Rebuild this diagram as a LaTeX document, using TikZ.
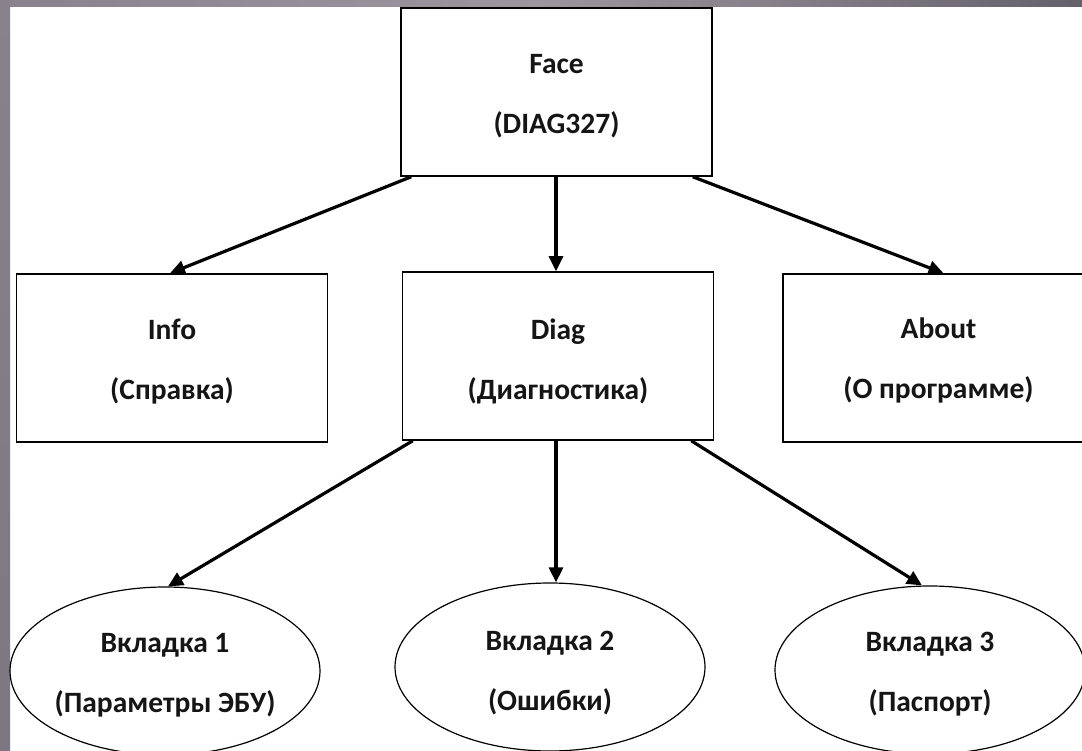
\documentclass[tikz,border=0pt]{standalone}
\usepackage{fontspec}
\setmainfont{Carlito}
\usetikzlibrary{arrows.meta,shapes.geometric}
\definecolor{bordA}{HTML}{87828C}
\definecolor{bordB}{HTML}{9C979F}
\definecolor{bordC}{HTML}{65616A}
\definecolor{bordD}{HTML}{7C7781}
\definecolor{ink}{HTML}{151515}
\begin{document}
\begin{tikzpicture}[x=1pt,y=-1pt,
  lbl/.style={font=\bfseries\fontsize{29.5}{60}\selectfont, text=ink, align=center, inner sep=0pt},
  boxnode/.style={draw=black, line width=1.5pt, rectangle, inner sep=0pt, minimum width=311pt, minimum height=168pt},
  ellnode/.style={draw=black, line width=1.2pt, ellipse, inner sep=0pt, minimum width=310pt, minimum height=168pt},
  arr/.style={line width=3.2pt, black, -{Triangle[length=15pt,width=14pt]}}
]
\clip (0,0) rectangle (1082,751);
\fill[white] (0,0) rectangle (1082,751);
\shade[left color=bordA, right color=bordC, middle color=bordB] (0,0) rectangle (1082,7);
\shade[top color=bordA, bottom color=bordD] (0,0) rectangle (10,751);

\node[boxnode, label={[lbl,yshift=-4.5pt]center:{Face\\(DIAG327)}}] (face) at (556.5,92) {};
\node[boxnode, label={[lbl,yshift=-3.5pt]center:{Info\\(Справка)}}] (info) at (172,358) {};
\node[boxnode, label={[lbl,yshift=-5.5pt]center:{Diag\\(Диагностика)}}] (diag) at (558,356) {};
\node[boxnode, label={[lbl,yshift=-2.5pt]center:{About\\(О программе)}}] (about) at (938.5,358) {};

\node[ellnode, label={[lbl,yshift=-4pt]center:{Вкладка 1\\(Параметры ЭБУ)}}] (t1) at (165,671) {};
\node[ellnode, label={[lbl,yshift=-6.5pt]center:{Вкладка 2\\(Ошибки)}}] (t2) at (550,667) {};
\node[ellnode, label={[lbl,yshift=-4.5pt]center:{Вкладка 3\\(Паспорт)}}] (t3) at (930,670) {};

\draw[arr] ([xshift=11pt]face.south west) -- ([xshift=-2pt]info.north);
\draw[arr] ([xshift=-0.5pt]face.south) -- ([xshift=-2pt]diag.north);
\draw[arr] ([xshift=-20pt]face.south east) -- ([xshift=5pt]about.north);

\draw[arr] ([xshift=11pt]diag.south west) -- ([xshift=3pt]t1.north);
\draw[arr] ([xshift=-2pt]diag.south) -- ([xshift=6pt]t2.north);
\draw[arr] ([xshift=-23pt]diag.south east) -- ([xshift=-8pt]t3.north);
\end{tikzpicture}
\end{document}
